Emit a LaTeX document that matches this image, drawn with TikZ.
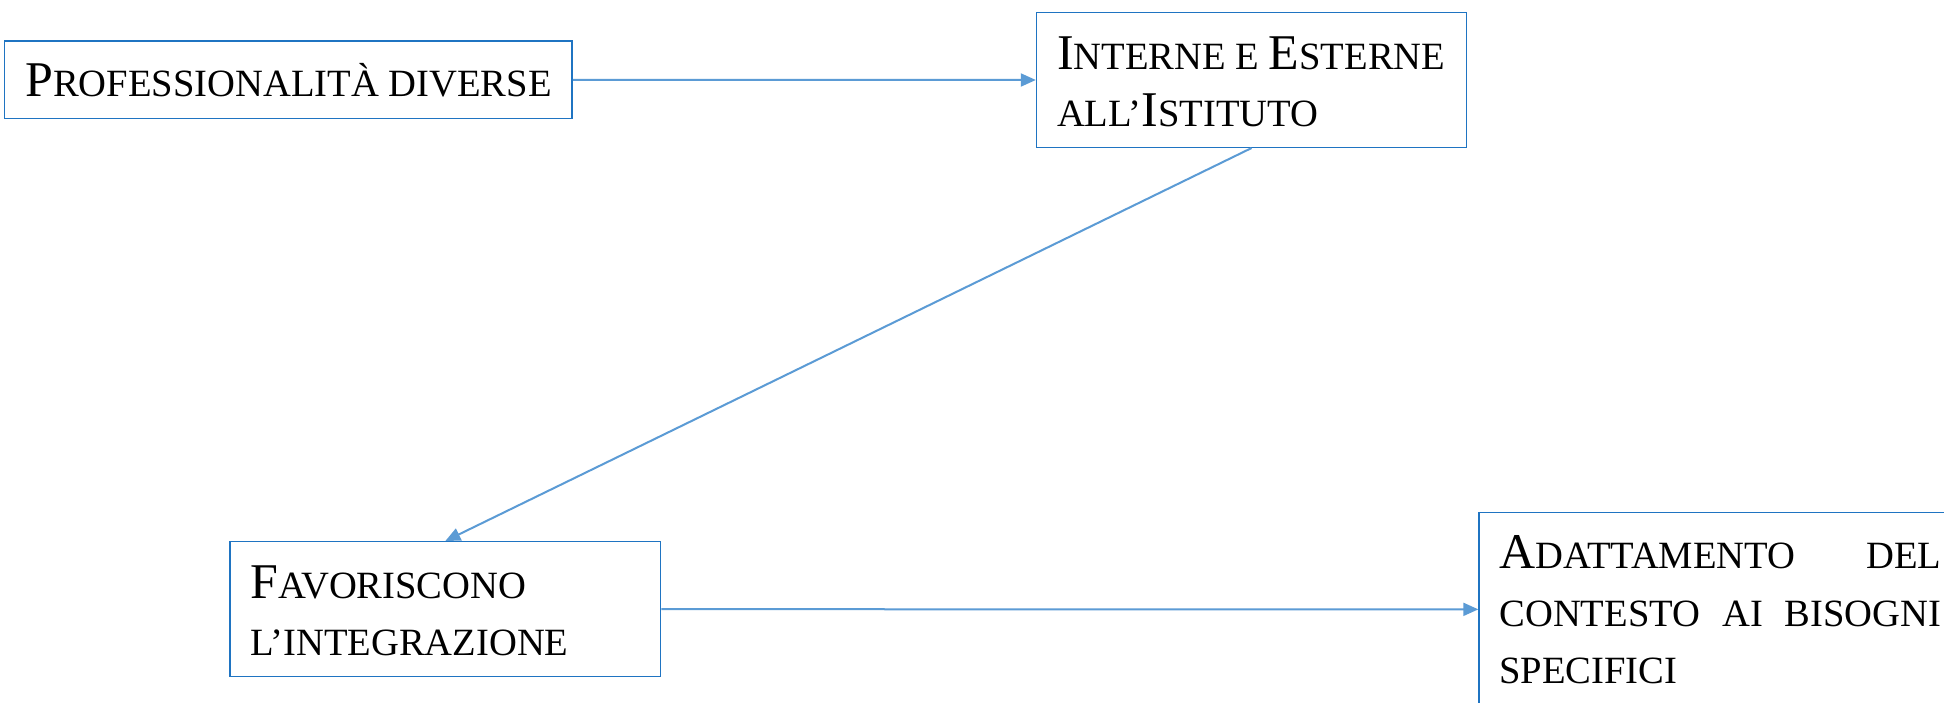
\documentclass[tikz,border=0pt]{standalone}
\usepackage{fontspec}
\setmainfont{Liberation Serif}
\usetikzlibrary{arrows.meta}
\definecolor{boxblue}{HTML}{1F74C2}
\definecolor{linkblue}{HTML}{5B9BD5}
% hand-made small capitals: lower-case letters typed as reduced capitals
\newcommand\smallcp[1]{{\fontsize{19.3pt}{21pt}\selectfont #1}}
\begin{document}
\begin{tikzpicture}[x=0.5pt, y=-0.5pt,
  font=\fontsize{25pt}{30pt}\selectfont,
  box/.style={draw=boxblue, line width=0.7pt, rectangle, inner sep=0pt, fill=white},
  txt/.style={anchor=base west, inner sep=0pt},
  link/.style={draw=linkblue, line width=1pt, -{Triangle[length=7.5pt, width=6.5pt]}}]
\useasboundingbox (0,0) rectangle (1944,702);
\clip (0,0) rectangle (1944,702);
\fill[white] (0,0) rectangle (1944,702);

% boxes
\node[box, minimum width=283.85pt, minimum height=38.85pt] (b1) at (288.2,79.9) {};
\node[box, minimum width=215.1pt, minimum height=67.3pt] (b2) at (1251.6,80) {};
\node[box, minimum width=215.35pt, minimum height=67.5pt] (b3) at (445.35,609.2) {};
\node[box, minimum width=243pt, minimum height=96.65pt] (b4) at (1722,609.35) {};

% texts
\node[txt] (t1) at (25,96.7) {P\smallcp{ROFESSIONALITÀ DIVERSE}};
\node[txt] (t2a) at (1056.7,69.3) {I\smallcp{NTERNE E }E\smallcp{STERNE}};
\node[txt] (t2b) at (1056.7,126) {\smallcp{ALL’}I\smallcp{STITUTO}};
\node[txt] (t3a) at (250,598.3) {F\smallcp{AVORISCONO}};
\node[txt] (t3b) at (250,655) {\smallcp{L’INTEGRAZIONE}};
\node[txt] (t4a) at (1499,568.3) {\makebox[221pt][l]{A\smallcp{DATTAMENTO}\hfill\smallcp{DEL}}};
\node[txt] (t4b) at (1499,626) {\makebox[221pt][l]{\smallcp{CONTESTO}\hfill\smallcp{AI}\hfill\smallcp{BISOGNI}}};
\node[txt] (t4c) at (1499,683.3) {\smallcp{SPECIFICI}};

% connectors
\draw[link] (b1.east) -- (b2.west);
\draw[link] (b2.south) -- (b3.north);
\draw[link] (b3.east) -- (b4.west);
\end{tikzpicture}
\end{document}
